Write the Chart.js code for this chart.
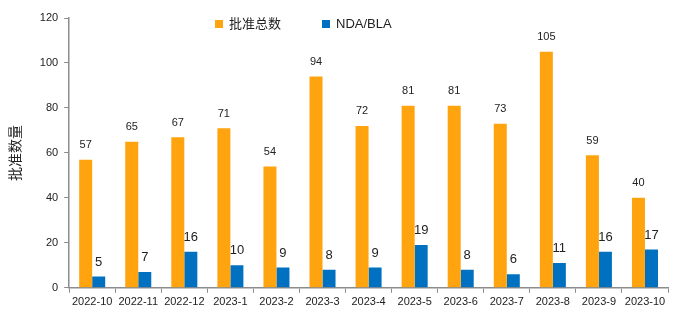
<!DOCTYPE html>
<html>
<head>
<meta charset="utf-8">
<script src="https://cdn.jsdelivr.net/npm/chart.js@4"></script>
<style>
    html, body { margin: 0; padding: 0; background: #fff; }
    #wrap { position: relative; width: 682px; height: 324px; }
</style>
</head>
<body>
<div id="wrap"><canvas id="approvalChart" width="682" height="324"></canvas></div>
<script>
const MONTHS = ["2022-10", "2022-11", "2022-12", "2023-1", "2023-2", "2023-3", "2023-4",
    "2023-5", "2023-6", "2023-7", "2023-8", "2023-9", "2023-10"];
const TOTAL_APPROVALS = [57, 65, 67, 71, 54, 94, 72, 81, 81, 73, 105, 59, 40];
const NDA_BLA = [5, 7, 16, 10, 9, 8, 9, 19, 8, 6, 11, 16, 17];

const FONT = "'Liberation Sans', 'Noto Sans CJK SC', sans-serif";
const AXIS_GREY = "#8c8c8c";

// value labels above each bar
const barValueLabels = {
    id: "barValueLabels",
    afterDatasetsDraw(chart) {
        const ctx = chart.ctx;
        ctx.save();
        ctx.textAlign = "center";
        ctx.textBaseline = "bottom";
        chart.data.datasets.forEach((ds, i) => {
            const meta = chart.getDatasetMeta(i);
            ctx.font = (i === 0 ? "11px " : "13px ") + FONT;
            ctx.fillStyle = "#222";
            meta.data.forEach((bar, j) => {
                ctx.fillText(ds.data[j], bar.x, bar.y - (i === 0 ? 9 : 8));
            });
        });
        ctx.restore();
    }
};

// legend drawn inside the plot area
const innerLegend = {
    id: "innerLegend",
    afterDraw(chart) {
        const ctx = chart.ctx;
        const items = [
            { x: 215, ds: chart.data.datasets[0] },
            { x: 322, ds: chart.data.datasets[1] }
        ];
        ctx.save();
        ctx.font = "13px " + FONT;
        ctx.textBaseline = "middle";
        items.forEach(it => {
            ctx.fillStyle = it.ds.backgroundColor;
            ctx.fillRect(it.x, 20, 8, 8);
            ctx.fillStyle = "#222";
            ctx.fillText(it.ds.label, it.x + 14, 24.5);
        });
        ctx.restore();
    }
};

const ctx = document.getElementById("approvalChart").getContext("2d");
new Chart(ctx, {
    type: "bar",
    data: {
        labels: MONTHS,
        datasets: [
            { label: "批准总数", data: TOTAL_APPROVALS, backgroundColor: "#FFA40F" },
            { label: "NDA/BLA", data: NDA_BLA, backgroundColor: "#0070C0" }
        ]
    },
    options: {
        responsive: false,
        animation: false,
        layout: { padding: { left: 4, right: 14, top: 18, bottom: 12 } },
        datasets: {
            bar: { categoryPercentage: 0.565, barPercentage: 1.0 }
        },
        plugins: {
            legend: { display: false },
            tooltip: { enabled: false }
        },
        scales: {
            x: {
                grid: {
                    drawOnChartArea: false,
                    color: AXIS_GREY,
                    tickLength: 5
                },
                border: { color: AXIS_GREY, width: 1.5 },
                ticks: {
                    color: "#222",
                    font: { family: FONT, size: 11 },
                    maxRotation: 0,
                    autoSkip: false,
                    padding: 3
                }
            },
            y: {
                min: 0,
                max: 120,
                grid: {
                    drawOnChartArea: false,
                    color: AXIS_GREY,
                    tickLength: 5
                },
                border: { color: AXIS_GREY, width: 1.5 },
                ticks: {
                    stepSize: 20,
                    color: "#222",
                    font: { family: FONT, size: 11 },
                    padding: 6
                },
                title: {
                    display: true,
                    text: "批准数量",
                    color: "#222",
                    font: { family: FONT, size: 14 },
                    padding: { bottom: 9 }
                }
            }
        }
    },
    plugins: [barValueLabels, innerLegend]
});
</script>
</body>
</html>
